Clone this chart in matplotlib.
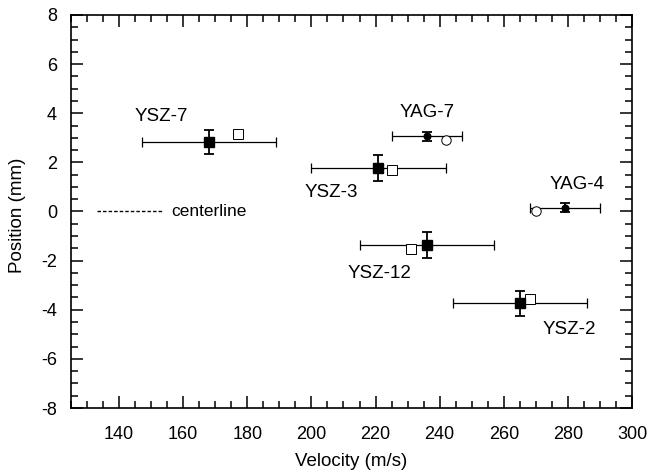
import matplotlib
matplotlib.use("Agg")
from matplotlib import pyplot as plt
from matplotlib.ticker import MultipleLocator

plt.rcParams['font.family'] = ['Liberation Sans', 'DejaVu Sans']
plt.rcParams['axes.unicode_minus'] = False

# YSZ samples: measured (filled square) and second estimate (open square)
ysz_names = ['YSZ-7', 'YSZ-3', 'YSZ-12', 'YSZ-2']
ysz_vel = [168.1, 220.9, 236.0, 265.1]
ysz_pos = [2.84, 1.78, -1.38, -3.74]
ysz_vel_err = [21, 21, 21, 21]
ysz_pos_err = [0.49, 0.53, 0.53, 0.51]
ysz_open_vel = [177.0, 225.1, 231.1, 268.2]
ysz_open_pos = [3.16, 1.69, -1.53, -3.56]

# YAG samples: measured (filled circle) and second estimate (open circle)
yag_names = ['YAG-7', 'YAG-4']
yag_vel = [236.0, 279.1]
yag_pos = [3.07, 0.16]
yag_vel_err = [11, 11]
yag_pos_err = [0.18, 0.18]
yag_open_vel = [241.9, 270.1]
yag_open_pos = [2.91, 0.03]

# label anchor positions (data coords)
label_x = [153.1, 206.3, 221.2, 280.3, 236.1, 282.9]
label_y = [3.85, 0.77, -2.54, -4.82, 4.05, 1.08]

fig = plt.figure(figsize=(6.49, 4.74), dpi=100)
ax = fig.add_axes([0.1094, 0.1392, 0.8644, 0.8292])

# error bars + filled markers
ax.errorbar(ysz_vel, ysz_pos, xerr=ysz_vel_err, fmt='none', ecolor='black',
            elinewidth=0.9, capsize=3.5, capthick=0.9, zorder=2)
ax.errorbar(ysz_vel, ysz_pos, yerr=ysz_pos_err, fmt='none', ecolor='black',
            elinewidth=1.3, capsize=3.5, capthick=1.3, zorder=2)
ax.errorbar(yag_vel, yag_pos, xerr=yag_vel_err, fmt='none', ecolor='black',
            elinewidth=0.9, capsize=3.5, capthick=0.9, zorder=2)
ax.errorbar(yag_vel, yag_pos, yerr=yag_pos_err, fmt='none', ecolor='black',
            elinewidth=1.3, capsize=3.5, capthick=1.3, zorder=2)

ax.plot(ysz_open_vel, ysz_open_pos, 's', ms=6.8, mfc='white', mec='black',
        mew=0.7, zorder=3)
ax.plot(yag_open_vel, yag_open_pos, 'o', ms=6.8, mfc='white', mec='black',
        mew=0.7, zorder=3)
ax.plot(ysz_vel, ysz_pos, 's', ms=6.8, color='black', zorder=4)
ax.plot(yag_vel, yag_pos, 'o', ms=4.8, color='black', zorder=4)

for name, x, y in zip(ysz_names + yag_names, label_x, label_y):
    ax.text(x, y, name, ha='center', va='center', fontsize=13.5)

# centerline legend
ax.plot([133.1, 153.7], [0, 0], color='black', lw=1.0, ls=(0, (2.5, 1.5)))
ax.text(156.4, 0.02, 'centerline', ha='left', va='center', fontsize=12.5)

ax.set_xlim(125, 300)
ax.set_ylim(-8, 8)
ax.xaxis.set_major_locator(MultipleLocator(20))
ax.xaxis.set_minor_locator(MultipleLocator(5))
ax.yaxis.set_major_locator(MultipleLocator(2))
ax.yaxis.set_minor_locator(MultipleLocator(0.5))
ax.tick_params(which='both', direction='in', top=True, right=True,
               labelsize=13, width=1.1)
ax.tick_params(which='major', length=8.5)
ax.tick_params(which='minor', length=4.8)
ax.tick_params(axis='x', which='major', pad=13)
ax.tick_params(axis='y', which='major', pad=10)
for s in ax.spines.values():
    s.set_linewidth(1.2)

ax.set_xlabel('Velocity (m/s)', fontsize=13.5, va='center')
ax.set_ylabel('Position (mm)', fontsize=13.5, va='center')
ax.xaxis.set_label_coords(0.5, -0.137)
ax.yaxis.set_label_coords(-0.0954, 0.49)

fig.savefig('out.png', dpi=100)
